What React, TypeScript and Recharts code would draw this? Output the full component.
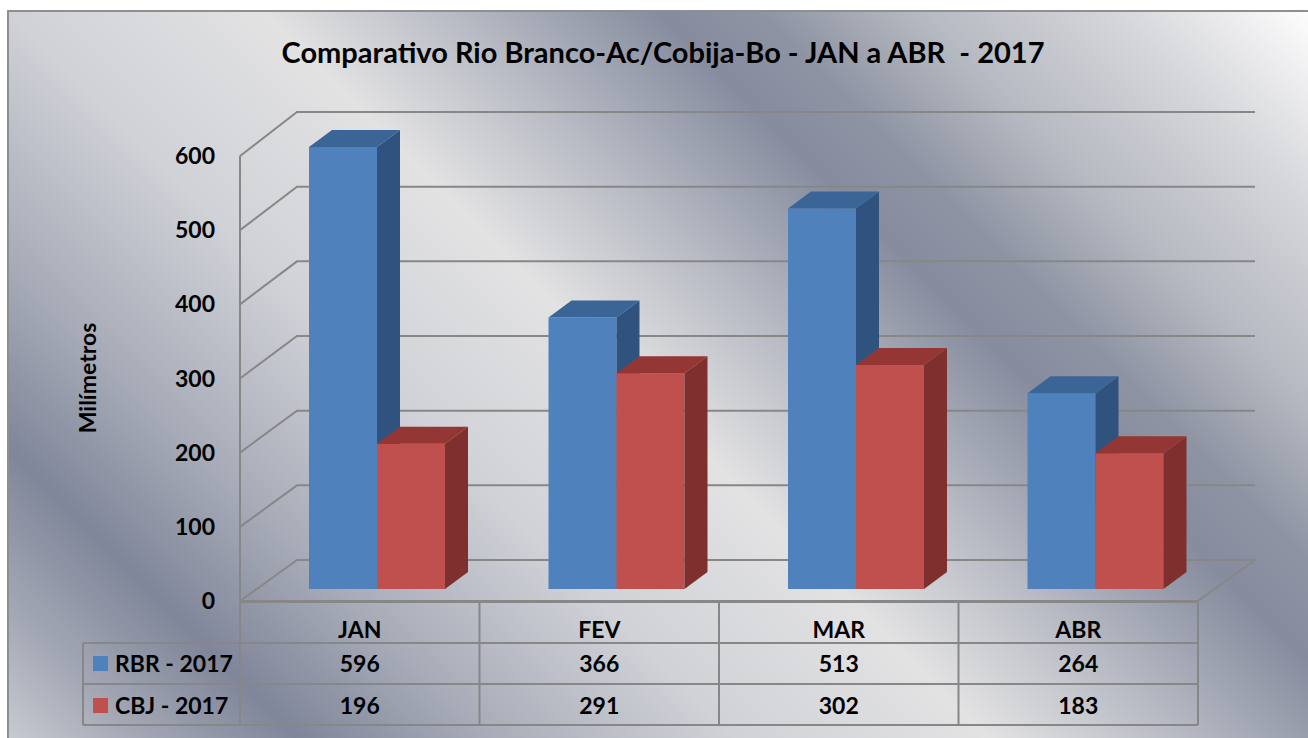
import React from 'react';
import { BarChart, Bar, XAxis, YAxis, CartesianGrid } from 'recharts';

const months = ['JAN', 'FEV', 'MAR', 'ABR'];
const rbr2017 = [596, 366, 513, 264];
const cbj2017 = [196, 291, 302, 183];
const seriesNames = ['RBR - 2017', 'CBJ - 2017'];
const yTicks = [0, 100, 200, 300, 400, 500, 600];

const data = months.map((m, i) => ({ month: m, rbr: rbr2017[i], cbj: cbj2017[i] }));

const W = 1308;
const H = 738;
const PLOT_L = 240;
const PLOT_R = 1198;
const PLOT_T = 156;
const PLOT_B = 601;
const DEPTH_X = 57;
const BACK_0 = 560;
const BACK_TOP = 112;
const GRID = '#878787';
const FONT = 'Lato, "Open Sans", sans-serif';

const BLUE = { front: '#4f81bd', side: '#30527f', top: '#3b6596' };
const RED = { front: '#c0504d', side: '#7f2f2d', top: '#943634' };

const backY = (y: number) => BACK_0 - ((PLOT_B - y) * (BACK_0 - BACK_TOP)) / (PLOT_B - PLOT_T);

// horizontal grid: side wall diagonal + back wall line, floor on the 0 line
const gridLine = (props: any) => {
  const { x1, x2, y1 } = props;
  const yb = backY(y1);
  const floor = Math.abs(y1 - PLOT_B) < 1;
  return (
    <g key={`g-${y1}`}>
      <polyline
        points={`${x1},${y1} ${x1 + DEPTH_X},${yb} ${x2 + DEPTH_X},${yb}`}
        fill="none"
        stroke={GRID}
        strokeWidth={2}
      />
      {floor && (
        <polyline
          points={`${x1},${y1} ${x2},${y1} ${x2 + DEPTH_X},${yb}`}
          fill="none"
          stroke={GRID}
          strokeWidth={2}
        />
      )}
    </g>
  );
};

// 3d-ish box bar, sits a bit back on the floor
const boxShape = (c: { front: string; side: string; top: string }) => (props: any) => {
  const { x, y, width, height } = props;
  const fx = x + 17;
  const fy = y - 12;
  const dx = 23;
  const dy = 17;
  const r = fx + width;
  return (
    <g>
      <rect x={fx} y={fy} width={width} height={height} fill={c.front} />
      <polygon
        points={`${r},${fy} ${r + dx},${fy - dy} ${r + dx},${fy + height - dy} ${r},${fy + height}`}
        fill={c.side}
      />
      <polygon points={`${fx},${fy} ${fx + dx},${fy - dy} ${r + dx},${fy - dy} ${r},${fy}`} fill={c.top} />
    </g>
  );
};

function Background() {
  return (
    <svg width={W} height={H} style={{ position: 'absolute', left: 0, top: 0 }}>
      <defs>
        <linearGradient id="bg" gradientUnits="userSpaceOnUse" x1={0} y1={738} x2={1023} y2={-285}>
          <stop offset="0" stopColor="#c9ccd2" />
          <stop offset="0.067" stopColor="#a4a8b5" />
          <stop offset="0.146" stopColor="#80869a" />
          <stop offset="0.239" stopColor="#a8acb8" />
          <stop offset="0.361" stopColor="#d0d2d7" />
          <stop offset="0.483" stopColor="#e2e2e3" />
          <stop offset="0.576" stopColor="#b8bbc4" />
          <stop offset="0.678" stopColor="#868c9e" />
          <stop offset="0.727" stopColor="#8e94a3" />
          <stop offset="0.8" stopColor="#b4b8c0" />
          <stop offset="0.898" stopColor="#d5d6da" />
          <stop offset="1" stopColor="#ffffff" />
        </linearGradient>
      </defs>
      <rect x={0} y={0} width={W} height={H} fill="#ffffff" />
      <rect x={8} y={11} width={W + 10} height={H + 10} fill="url(#bg)" stroke="#8f8f8f" strokeWidth={2} />
    </svg>
  );
}

function Overlay() {
  const band = (PLOT_R - PLOT_L) / months.length;
  const rows = [602, 643, 684, 725];
  const txt = { fontFamily: FONT, fontWeight: 700, fontSize: 23, fill: '#000' } as const;
  return (
    <svg width={W} height={H} style={{ position: 'absolute', left: 0, top: 0, pointerEvents: 'none' }}>
      <text x={663} y={63} textAnchor="middle" style={{ ...txt, fontSize: 29 }} xmlSpace="preserve">
        {'Comparativo Rio Branco-Ac/Cobija-Bo - JAN a ABR  - 2017'}
      </text>
      <text
        x={0}
        y={0}
        transform={`translate(96,378) rotate(-90)`}
        textAnchor="middle"
        style={{ ...txt, fontSize: 23 }}
      >
        Milímetros
      </text>

      {/* data table */}
      <g stroke={GRID} strokeWidth={2} fill="none">
        <line x1={PLOT_L} y1={rows[0]} x2={PLOT_R} y2={rows[0]} />
        <line x1={83} y1={rows[1]} x2={PLOT_R} y2={rows[1]} />
        <line x1={83} y1={rows[2]} x2={PLOT_R} y2={rows[2]} />
        <line x1={83} y1={rows[3]} x2={PLOT_R} y2={rows[3]} />
        <line x1={83} y1={rows[1]} x2={83} y2={rows[3]} />
        {months.map((_, i) => (
          <line key={i} x1={PLOT_L + i * band} y1={rows[0]} x2={PLOT_L + i * band} y2={rows[3]} />
        ))}
        <line x1={PLOT_R} y1={rows[0]} x2={PLOT_R} y2={rows[3]} />
      </g>
      {months.map((m, i) => (
        <g key={m}>
          <text x={PLOT_L + (i + 0.5) * band} y={638} textAnchor="middle" style={txt}>
            {m}
          </text>
          <text x={PLOT_L + (i + 0.5) * band} y={672} textAnchor="middle" style={txt}>
            {rbr2017[i]}
          </text>
          <text x={PLOT_L + (i + 0.5) * band} y={714} textAnchor="middle" style={txt}>
            {cbj2017[i]}
          </text>
        </g>
      ))}
      <rect x={93} y={656} width={15} height={15} fill={BLUE.front} />
      <rect x={93} y={698} width={15} height={15} fill={RED.front} />
      <text x={115} y={672} style={txt}>
        {seriesNames[0]}
      </text>
      <text x={115} y={714} style={txt}>
        {seriesNames[1]}
      </text>
    </svg>
  );
}

export default function App() {
  return (
    <div style={{ position: 'absolute', left: 0, top: 0, width: W, height: H, overflow: 'hidden' }}>
      <Background />
      <div style={{ position: 'absolute', left: 0, top: 0 }}>
        <BarChart
          width={W}
          height={H}
          data={data}
          margin={{ top: PLOT_T, right: W - PLOT_R, bottom: H - PLOT_B, left: PLOT_L - 100 }}
          barGap={0}
        >
          <CartesianGrid vertical={false} horizontal={gridLine} />
          <XAxis dataKey="month" hide />
          <YAxis
            width={100}
            domain={[0, 600]}
            ticks={yTicks}
            interval={0}
            tickLine={false}
            tickSize={0}
            tickMargin={25}
            axisLine={{ stroke: GRID, strokeWidth: 2 }}
            tick={{ fill: '#000', fontFamily: FONT, fontWeight: 700, fontSize: 23 }}
          />
          <Bar dataKey="rbr" name={seriesNames[0]} barSize={68} shape={boxShape(BLUE)} isAnimationActive={false} />
          <Bar dataKey="cbj" name={seriesNames[1]} barSize={68} shape={boxShape(RED)} isAnimationActive={false} />
        </BarChart>
      </div>
      <Overlay />
    </div>
  );
}
